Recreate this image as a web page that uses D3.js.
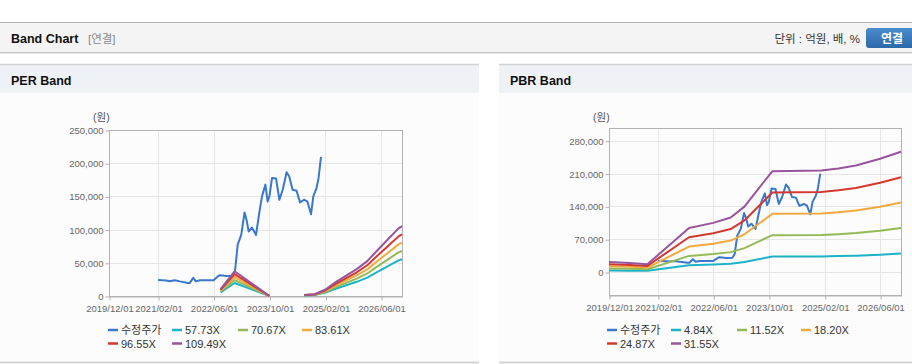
<!DOCTYPE html>
<html><head><meta charset="utf-8">
<script src="https://cdn.jsdelivr.net/npm/d3@7"></script>
<style>
html,body{margin:0;padding:0;background:#fff;}
svg{display:block;font-family:"Liberation Sans","Noto Sans CJK KR",Arial,sans-serif;}
</style></head>
<body>
<script>
// ---------- DATA ----------
const xTickLabels = ["2019/12/01","2021/02/01","2022/06/01","2023/10/01","2025/02/01","2026/06/01"];
const xDomain = ["2019-12-01","2026-12-01"];

const priceName = "수정주가";
const priceDates = ["2021-02-01","2021-04-15","2021-05-12","2021-06-28","2021-08-10","2021-10-20","2021-11-05","2021-12-05","2021-12-28","2022-02-01","2022-03-28","2022-06-01","2022-07-20","2022-08-20","2022-09-18","2022-11-15","2022-12-05","2022-12-28","2023-01-28","2023-02-26","2023-03-15","2023-04-03","2023-05-01","2023-06-06","2023-07-04","2023-07-28","2023-08-27","2023-09-15","2023-10-01","2023-10-24","2023-11-28","2023-12-27","2024-01-25","2024-02-28","2024-03-22","2024-04-20","2024-05-25","2024-06-24","2024-08-01","2024-08-28","2024-09-28","2024-10-18","2024-11-15","2024-12-03","2024-12-24"];
const priceValues = [24200,23200,22200,23700,22000,19700,19700,27300,22000,23700,23700,23700,31300,31000,30000,30500,37800,77300,92000,125800,115000,97000,103000,92000,124700,150000,167700,142400,150000,177800,176800,145000,160000,186400,180000,160000,158600,141000,145000,142000,123000,150000,162600,177800,209600];

// PER band
const perYTicks = [0,50000,100000,150000,200000,250000];
const perYDomain = [0,250000];
const perBandNames = ["57.73X","70.67X","83.61X","96.55X","109.49X"];
const perBandDates = ["2022-08-01","2022-12-01","2023-10-01","2024-01-01","2024-08-01","2024-11-01","2025-02-01","2025-05-01","2025-08-01","2025-11-01","2026-02-01","2026-05-01","2026-08-01","2026-11-01","2026-12-01"];
const per5773  = [5484,19628,0,null,808,1443,5196,10969,16164,21360,27710,36370,45029,53689,55421];
const per7067  = [6714,24028,0,null,989,1767,6360,13427,19788,26148,33922,44522,55123,65723,67843];
const per8361  = [7943,28427,0,null,1171,2090,7525,15886,23411,30936,40133,52674,65216,77757,80266];
const per9655  = [9172,32827,0,null,1352,2414,8690,18345,27034,35724,46344,60827,75309,89792,92688];
const per10949 = [10402,37227,0,null,1533,2737,9854,20803,30657,40511,52555,68979,85402,101826,105110];

// PBR band
const pbrYTicks = [0,70000,140000,210000,280000];
const pbrYDomain = [-49000,307000];
const pbrBandNames = ["4.84X","11.52X","18.20X","24.87X","31.55X"];
const pbrBandDates = ["2019-12-01","2020-06-01","2020-11-01","2021-11-01","2022-06-01","2022-11-01","2023-03-01","2023-07-01","2023-11-01","2025-01-01","2025-06-01","2025-11-01","2026-06-01","2026-12-01"];
const pbr484  = [3243,2952,2517,14423,16069,17811,21393,27201,32985,33202,33880,34848,37026,39349];
const pbr1152 = [7718,7027,5990,34330,38246,42394,50918,64742,78509,79027,80640,82944,88128,93658];
const pbr1820 = [12194,11102,9464,54236,60424,66976,80444,102284,124033,124852,127400,131040,139230,147966];
const pbr2487 = [16663,15171,12932,74113,82568,91522,109925,139769,169489,170608,174090,179064,190256,202193];
const pbr3155 = [21139,19246,16406,94019,104746,116104,139451,177311,215018,216433,220850,227160,241358,256502];

const colors = {price:"#3a78cc", bands:["#1eb2c6","#93ba57","#f3a83e","#d2382f","#98549c"]};

// ---------- DRAW ----------
const W = 912, H = 364;
const svg = d3.select("body").append("svg").attr("width",W).attr("height",H);
const parse = d3.timeParse("%Y-%m-%d");
const parseTick = d3.timeParse("%Y/%m/%d");

// top header
svg.append("rect").attr("x",0).attr("y",0).attr("width",W).attr("height",H).attr("fill","#fff");
svg.append("rect").attr("x",0).attr("y",22).attr("width",W).attr("height",31).attr("fill","#f4f4f4");
svg.append("line").attr("x1",0).attr("x2",W).attr("y1",22.5).attr("y2",22.5).attr("stroke","#b4b4b4");
svg.append("line").attr("x1",0).attr("x2",W).attr("y1",52.5).attr("y2",52.5).attr("stroke","#c6c6c6");
svg.append("line").attr("x1",0).attr("x2",W).attr("y1",53.5).attr("y2",53.5).attr("stroke","#e6e6e6");
svg.append("text").attr("x",11).attr("y",43).attr("font-size",12.5).attr("font-weight","bold").attr("fill","#111").text("Band Chart");
svg.append("text").attr("x",88).attr("y",43).attr("font-size",11.5).attr("fill","#8a8a8a").text("[연결]");
svg.append("text").attr("x",860).attr("y",43).attr("text-anchor","end").attr("font-size",11.5).attr("fill","#333").text("단위 : 억원, 배, %");
const grad = svg.append("defs").append("linearGradient").attr("id","btn").attr("x1",0).attr("x2",0).attr("y1",0).attr("y2",1);
grad.append("stop").attr("offset","0%").attr("stop-color","#4a8ccc");
grad.append("stop").attr("offset","100%").attr("stop-color","#2d68a8");
svg.append("rect").attr("x",866).attr("y",28).attr("width",52).attr("height",20).attr("rx",3).attr("fill","url(#btn)");
svg.append("text").attr("x",892).attr("y",42.5).attr("text-anchor","middle").attr("font-size",12).attr("font-weight","bold").attr("fill","#fff").text("연결");

function panel(cfg){
  const g = svg.append("g");
  g.append("rect").attr("x",cfg.x0).attr("y",64).attr("width",cfg.w).attr("height",298).attr("fill","#fcfcfc");
  g.append("rect").attr("x",cfg.x0).attr("y",64).attr("width",cfg.w).attr("height",29).attr("fill","#eef2f7");
  g.append("line").attr("x1",cfg.x0).attr("x2",cfg.x0+cfg.w).attr("y1",64.5).attr("y2",64.5).attr("stroke","#d2d2d2").attr("stroke-width",1.5);
  g.append("line").attr("x1",cfg.x0).attr("x2",cfg.x0+cfg.w).attr("y1",362.5).attr("y2",362.5).attr("stroke","#d4d4d4").attr("stroke-width",2);
  g.append("text").attr("x",cfg.x0+11).attr("y",85).attr("font-size",12.5).attr("font-weight","bold").attr("fill","#111").text(cfg.title);

  const x = d3.scaleTime().domain(xDomain.map(parse)).range([cfg.left,cfg.right]);
  const y = d3.scaleLinear().domain(cfg.yDomain).range([cfg.bottom,cfg.top]);
  const tickDates = xTickLabels.map(parseTick);

  // grid
  g.append("g").selectAll("line").data(tickDates.slice(1)).join("line")
    .attr("x1",d=>Math.round(x(d))+0.5).attr("x2",d=>Math.round(x(d))+0.5)
    .attr("y1",cfg.top).attr("y2",cfg.bottom).attr("stroke","#e6e6e6");
  g.append("g").selectAll("line").data(cfg.yTicks).join("line")
    .attr("x1",cfg.left).attr("x2",cfg.right)
    .attr("y1",d=>Math.round(y(d))+0.5).attr("y2",d=>Math.round(y(d))+0.5).attr("stroke","#e6e6e6");

  // border
  g.append("rect").attr("x",cfg.left+0.5).attr("y",cfg.top+0.5).attr("width",cfg.right-cfg.left).attr("height",cfg.bottom-cfg.top)
    .attr("fill","none").attr("stroke","#b2b2b2");

  // axes
  const xAxis = d3.axisBottom(x).tickValues(tickDates).tickFormat(d3.timeFormat("%Y/%m/%d")).tickSize(4).tickSizeOuter(0);
  const xa = g.append("g").attr("transform",`translate(0.5,${cfg.bottom+0.5})`).call(xAxis);
  xa.select(".domain").attr("stroke","#b2b2b2");
  xa.selectAll(".tick line").attr("stroke","#b2b2b2");
  xa.selectAll(".tick text").attr("font-size",9.5).attr("fill","#666").attr("font-family","Liberation Sans, Arial, sans-serif").attr("dy","0.9em");
  const yAxis = d3.axisLeft(y).tickValues(cfg.yTicks).tickFormat(d3.format(",")).tickSize(4).tickSizeOuter(0);
  const ya = g.append("g").attr("transform",`translate(${cfg.left+0.5},0.5)`).call(yAxis);
  ya.select(".domain").remove();
  ya.selectAll(".tick line").attr("stroke","#b2b2b2");
  ya.selectAll(".tick text").attr("font-size",9.5).attr("fill","#666").attr("font-family","Liberation Sans, Arial, sans-serif").attr("x",-6);

  g.append("text").attr("x",cfg.left-16).attr("y",121).attr("font-size",10.5).attr("fill","#555").text("(원)");

  // price line
  const clipId = "clip"+cfg.x0;
  svg.append("clipPath").attr("id",clipId).append("rect").attr("x",cfg.left).attr("y",cfg.top).attr("width",cfg.right-cfg.left+1).attr("height",cfg.bottom-cfg.top+1);
  const plot = g.append("g").attr("clip-path",`url(#${clipId})`);
  const line = d3.line().defined(d=>d[1]!==null).x(d=>x(d[0])).y(d=>y(d[1]));
  plot.append("path").datum(priceDates.map((d,i)=>[parse(d),priceValues[i]]))
    .attr("d",line).attr("fill","none").attr("stroke",colors.price).attr("stroke-width",2).attr("stroke-linejoin","round");
  cfg.bands.forEach((vals,k)=>{
    plot.append("path").datum(cfg.bandDates.map((d,i)=>[parse(d),vals[i]]))
      .attr("d",line).attr("fill","none").attr("stroke",colors.bands[k]).attr("stroke-width",2).attr("stroke-linejoin","round");
  });

  // legend
  const items = [{n:priceName,c:colors.price}].concat(cfg.bandNames.map((n,i)=>({n,c:colors.bands[i]})));
  const cols = [0,64,130,194];
  items.forEach((it,i)=>{
    const row = Math.floor(i/4), col = i%4;
    const lx = cfg.lx + cols[col], ly = 330 + row*13.5;
    g.append("line").attr("x1",lx).attr("x2",lx+10).attr("y1",ly).attr("y2",ly).attr("stroke",it.c).attr("stroke-width",2.5);
    g.append("text").attr("x",lx+13).attr("y",ly+4).attr("font-size",11).attr("fill","#333").text(it.n);
  });
}

panel({x0:0,w:479,title:"PER Band",left:109,right:402,top:130,bottom:296,yDomain:perYDomain,yTicks:perYTicks,
  bandDates:perBandDates,bands:[per5773,per7067,per8361,per9655,per10949],bandNames:perBandNames,lx:108});
panel({x0:499,w:413,title:"PBR Band",left:609,right:901,top:128,bottom:295,yDomain:pbrYDomain,yTicks:pbrYTicks,
  bandDates:pbrBandDates,bands:[pbr484,pbr1152,pbr1820,pbr2487,pbr3155],bandNames:pbrBandNames,lx:607});
</script>
</body></html>
